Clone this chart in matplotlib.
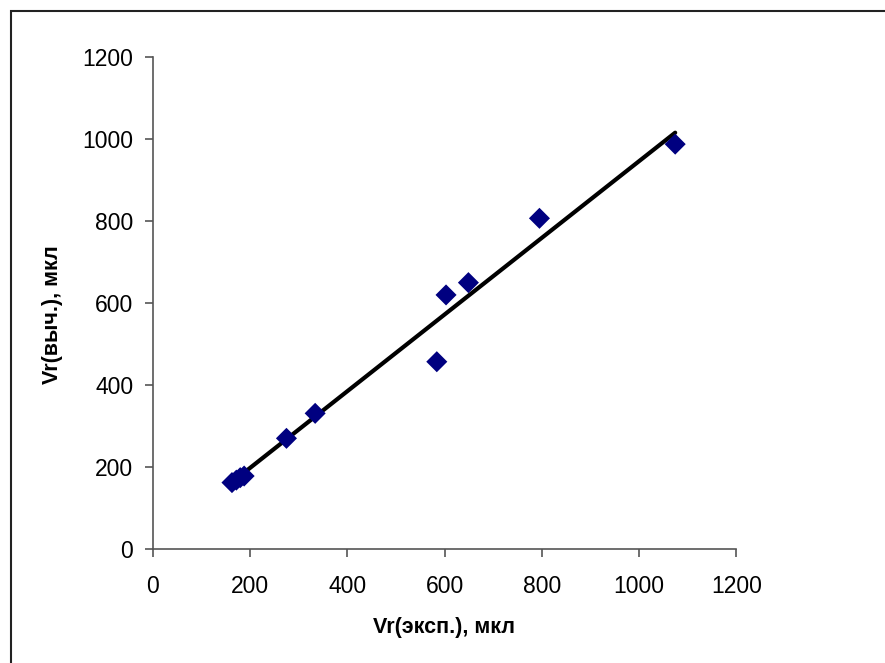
import matplotlib
matplotlib.use("Agg")
import matplotlib.pyplot as plt
from matplotlib.patches import Rectangle

plt.rcParams['font.family'] = ['Liberation Sans', 'DejaVu Sans']

# experimental vs calculated retention volumes
vr_exp = [163, 172, 180, 188, 275, 334, 584, 603, 649, 795, 1074]
vr_calc = [162, 168, 174, 178, 270, 331, 457, 620, 650, 807, 988]

# linear trend line endpoints
trend_x = [163, 1074]
trend_y = [163, 1016]

xticks = [0, 200, 400, 600, 800, 1000, 1200]
yticks = [0, 200, 400, 600, 800, 1000, 1200]

fig = plt.figure(figsize=(8.85, 6.63), dpi=100)
fig.patch.set_facecolor('white')
ax = fig.add_axes([0.1725, 0.172, 0.6597, 0.7416])

ax.plot(trend_x, trend_y, color='black', lw=3, solid_capstyle='round', zorder=2)
ax.scatter(vr_exp, vr_calc, marker='D', s=115, color='#000080', edgecolors='none', zorder=3)

ax.set_xlim(0, 1200)
ax.set_ylim(0, 1200)
ax.set_xticks(xticks)
ax.set_yticks(yticks)

for s in ['top', 'right']:
    ax.spines[s].set_visible(False)
for s in ['left', 'bottom']:
    ax.spines[s].set_color('#555555')
    ax.spines[s].set_linewidth(1.2)
ax.tick_params(direction='out', length=6, width=1.2, color='#555555',
               labelsize=16.5, labelcolor='black')
ax.tick_params(axis='x', pad=13)
ax.tick_params(axis='y', pad=8)

ax.set_xlabel('Vr(эксп.), мкл', fontsize=15.5, fontweight='bold')
ax.set_ylabel('Vr(выч.), мкл', fontsize=15.5, fontweight='bold')
ax.xaxis.label.set_va('center')
ax.yaxis.label.set_va('center')
ax.xaxis.set_label_coords(0.499, -0.16)
ax.yaxis.set_label_coords(-0.172, 0.476)

# chart frame (left and top edges visible)
fig.patches.append(Rectangle((11 / 885, -0.1), 1.2, 1 - 11 / 663 + 0.1,
                             transform=fig.transFigure, fill=False,
                             edgecolor='#222222', lw=1.5))

fig.savefig('out.png', dpi=100)
